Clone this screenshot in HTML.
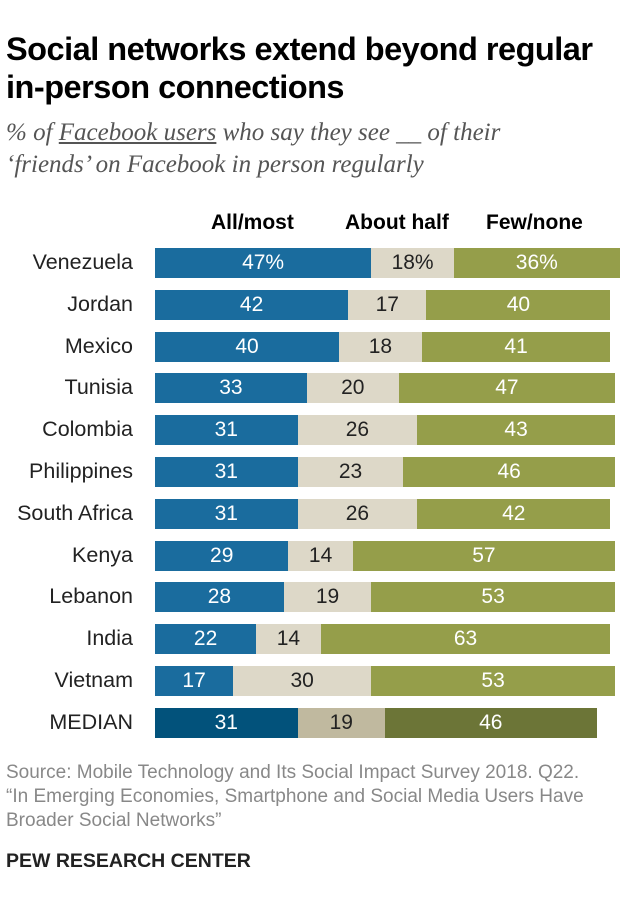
<!DOCTYPE html>
<html><head><meta charset="utf-8"><style>
body{margin:0;width:620px;height:912px;background:#fff;position:relative;font-family:"Liberation Sans",sans-serif;overflow:hidden}
.a{position:absolute}
.t{left:6px;top:30px;font-size:32.5px;font-weight:bold;color:#000;line-height:38px;letter-spacing:-0.5px;white-space:nowrap}
.s{left:6px;top:117px;font-family:"Liberation Serif",serif;font-style:italic;font-size:25px;color:#555;line-height:32px;white-space:nowrap}
.h{top:211px;font-size:21px;font-weight:bold;color:#000;white-space:nowrap}
.lab{left:0;width:133px;text-align:right;font-size:21.5px;color:#222;white-space:nowrap}
.b{height:30px;line-height:30px;text-align:center;font-size:21px}
.c1{background:#1a6c9e;color:#fff}.c2{background:#ddd8c8;color:#222}.c3{background:#959e4a;color:#fff}
.m1{background:#02527b;color:#fff}.m2{background:#c0b99f;color:#222}.m3{background:#6c7537;color:#fff}
.src{left:6px;top:761px;font-size:19px;color:#888;line-height:24px;white-space:nowrap}
.pew{left:6px;top:850px;font-size:19.5px;font-weight:bold;color:#222}
</style></head><body>
<div class="a t">Social networks extend beyond regular<br>in-person connections</div>
<div class="a s">% of <u>Facebook users</u> who say they see __ of their<br>‘friends’ on Facebook in person regularly</div>
<div class="a h" style="left:211px">All/most</div>
<div class="a h" style="left:345px">About half</div>
<div class="a h" style="left:486px">Few/none</div>
<div id="rows"></div>
<div class="a src">Source: Mobile Technology and Its Social Impact Survey 2018. Q22.<br>“In Emerging Economies, Smartphone and Social Media Users Have<br>Broader Social Networks”</div>
<div class="a pew">PEW RESEARCH CENTER</div>
<script>
var d=[["Venezuela",47,18,36,1],["Jordan",42,17,40],["Mexico",40,18,41],["Tunisia",33,20,47],["Colombia",31,26,43],["Philippines",31,23,46],["South Africa",31,26,42],["Kenya",29,14,57],["Lebanon",28,19,53],["India",22,14,63],["Vietnam",17,30,53],["MEDIAN",31,19,46]];
var h="",k=4.6;
d.forEach(function(r,i){var cy=263+i*41.8,top=cy-15,x=155,m=i==11;
h+='<div class="a lab" style="top:'+(cy-13)+'px">'+r[0]+'</div>';
for(var j=1;j<4;j++){var w=r[j]*k;var v=r[j]+(r[4]?'%':'');
h+='<div class="a b '+(m?'m':'c')+j+'" style="left:'+x+'px;top:'+top+'px;width:'+w+'px">'+v+'</div>';x+=w;}
});
document.getElementById("rows").innerHTML=h;
</script>
</body></html>
